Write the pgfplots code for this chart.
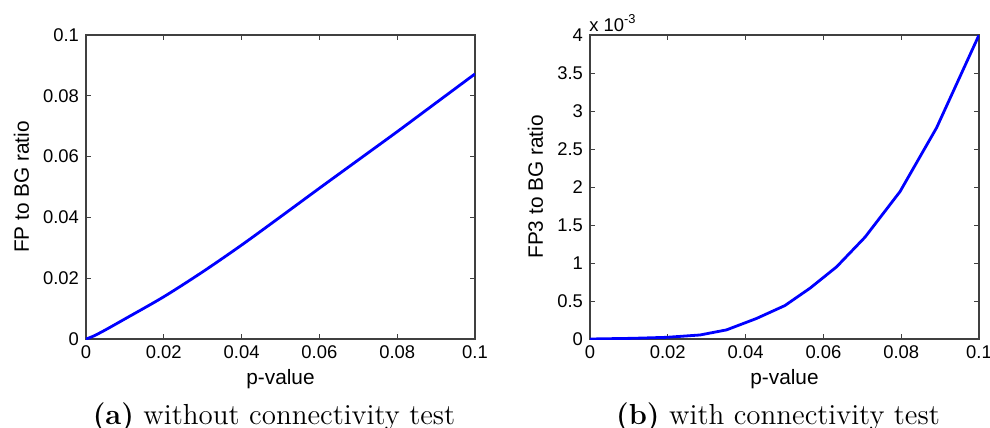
\documentclass[border=0pt]{standalone}
\usepackage{pgfplots}
\pgfplotsset{compat=1.18}
\usepackage{fontspec}
\newfontfamily\arial{Liberation Sans}
\begin{document}
\begin{tikzpicture}
\path[use as bounding box] (-43pt,-44.5pt) rectangle (452pt,169.5pt);
\pgfplotsset{
  mystyle/.style={
    scale only axis, width=194.5pt, height=152pt,
    xmin=0, xmax=0.1,
    tick align=inside, major tick length=2.5pt,
    axis line style={black!75, line width=0.6pt},
    every tick/.style={black!75, line width=0.4pt},
    xtick={0,0.02,0.04,0.06,0.08,0.1},
    xticklabels={0,0.02,0.04,0.06,0.08,0.1},
    ticklabel style={font=\arial\fontsize{9.2}{10}\selectfont},
    label style={font=\arial\fontsize{10.4}{12}\selectfont},
    xlabel={p-value},
    xlabel style={at={(axis description cs:0.5,-0.151)}, anchor=base},
  }
}
\begin{axis}[mystyle, at={(0pt,0pt)}, anchor=south west,
  ymin=0, ymax=0.1,
  ytick={0,0.02,0.04,0.06,0.08,0.1},
  yticklabels={0,0.02,0.04,0.06,0.08,0.1},
  ylabel={FP to BG ratio},
  ylabel style={at={(axis description cs:-0.147,0.5)}, anchor=base},
]
\addplot[blue, line width=1.4pt, smooth] coordinates {
(0,0) (0.002,0.001) (0.005,0.0030) (0.01,0.0066) (0.02,0.0139) (0.03,0.0221)
(0.04,0.0309) (0.05,0.0402) (0.06,0.0496) (0.07,0.0589) (0.08,0.0682)
(0.09,0.0777) (0.1,0.0872)};
\end{axis}
\begin{axis}[mystyle, name=right, at={(252pt,0pt)}, anchor=south west,
  ymin=0, ymax=4,
  ytick={0,0.5,1,1.5,2,2.5,3,3.5,4},
  yticklabels={0,0.5,1,1.5,2,2.5,3,3.5,4},
  ylabel={FP3 to BG ratio},
  ylabel style={at={(axis description cs:-0.121,0.5)}, anchor=base},
]
\addplot[blue, line width=1.4pt] coordinates {
(0,0) (0.011,0.009) (0.0197,0.022) (0.0283,0.053) (0.0351,0.12) (0.0428,0.27)
(0.0501,0.44) (0.0566,0.67) (0.0634,0.95) (0.0707,1.34) (0.0797,1.94)
(0.0891,2.78) (0.1,4.0)};
\end{axis}
\node[anchor=base west, inner sep=0pt, font=\arial\fontsize{9.2}{10}\selectfont]
  at ([xshift=-0.5pt, yshift=2pt]right.north west) {x 10\textsuperscript{-3}};
\node[anchor=base, font=\fontsize{14.5}{17}\selectfont] at (94pt,-42.5pt) {\textbf{(a)} without connectivity test};
\node[anchor=base, font=\fontsize{14.5}{17}\selectfont] at (346pt,-42.5pt) {\textbf{(b)} with connectivity test};
\end{tikzpicture}
\end{document}
